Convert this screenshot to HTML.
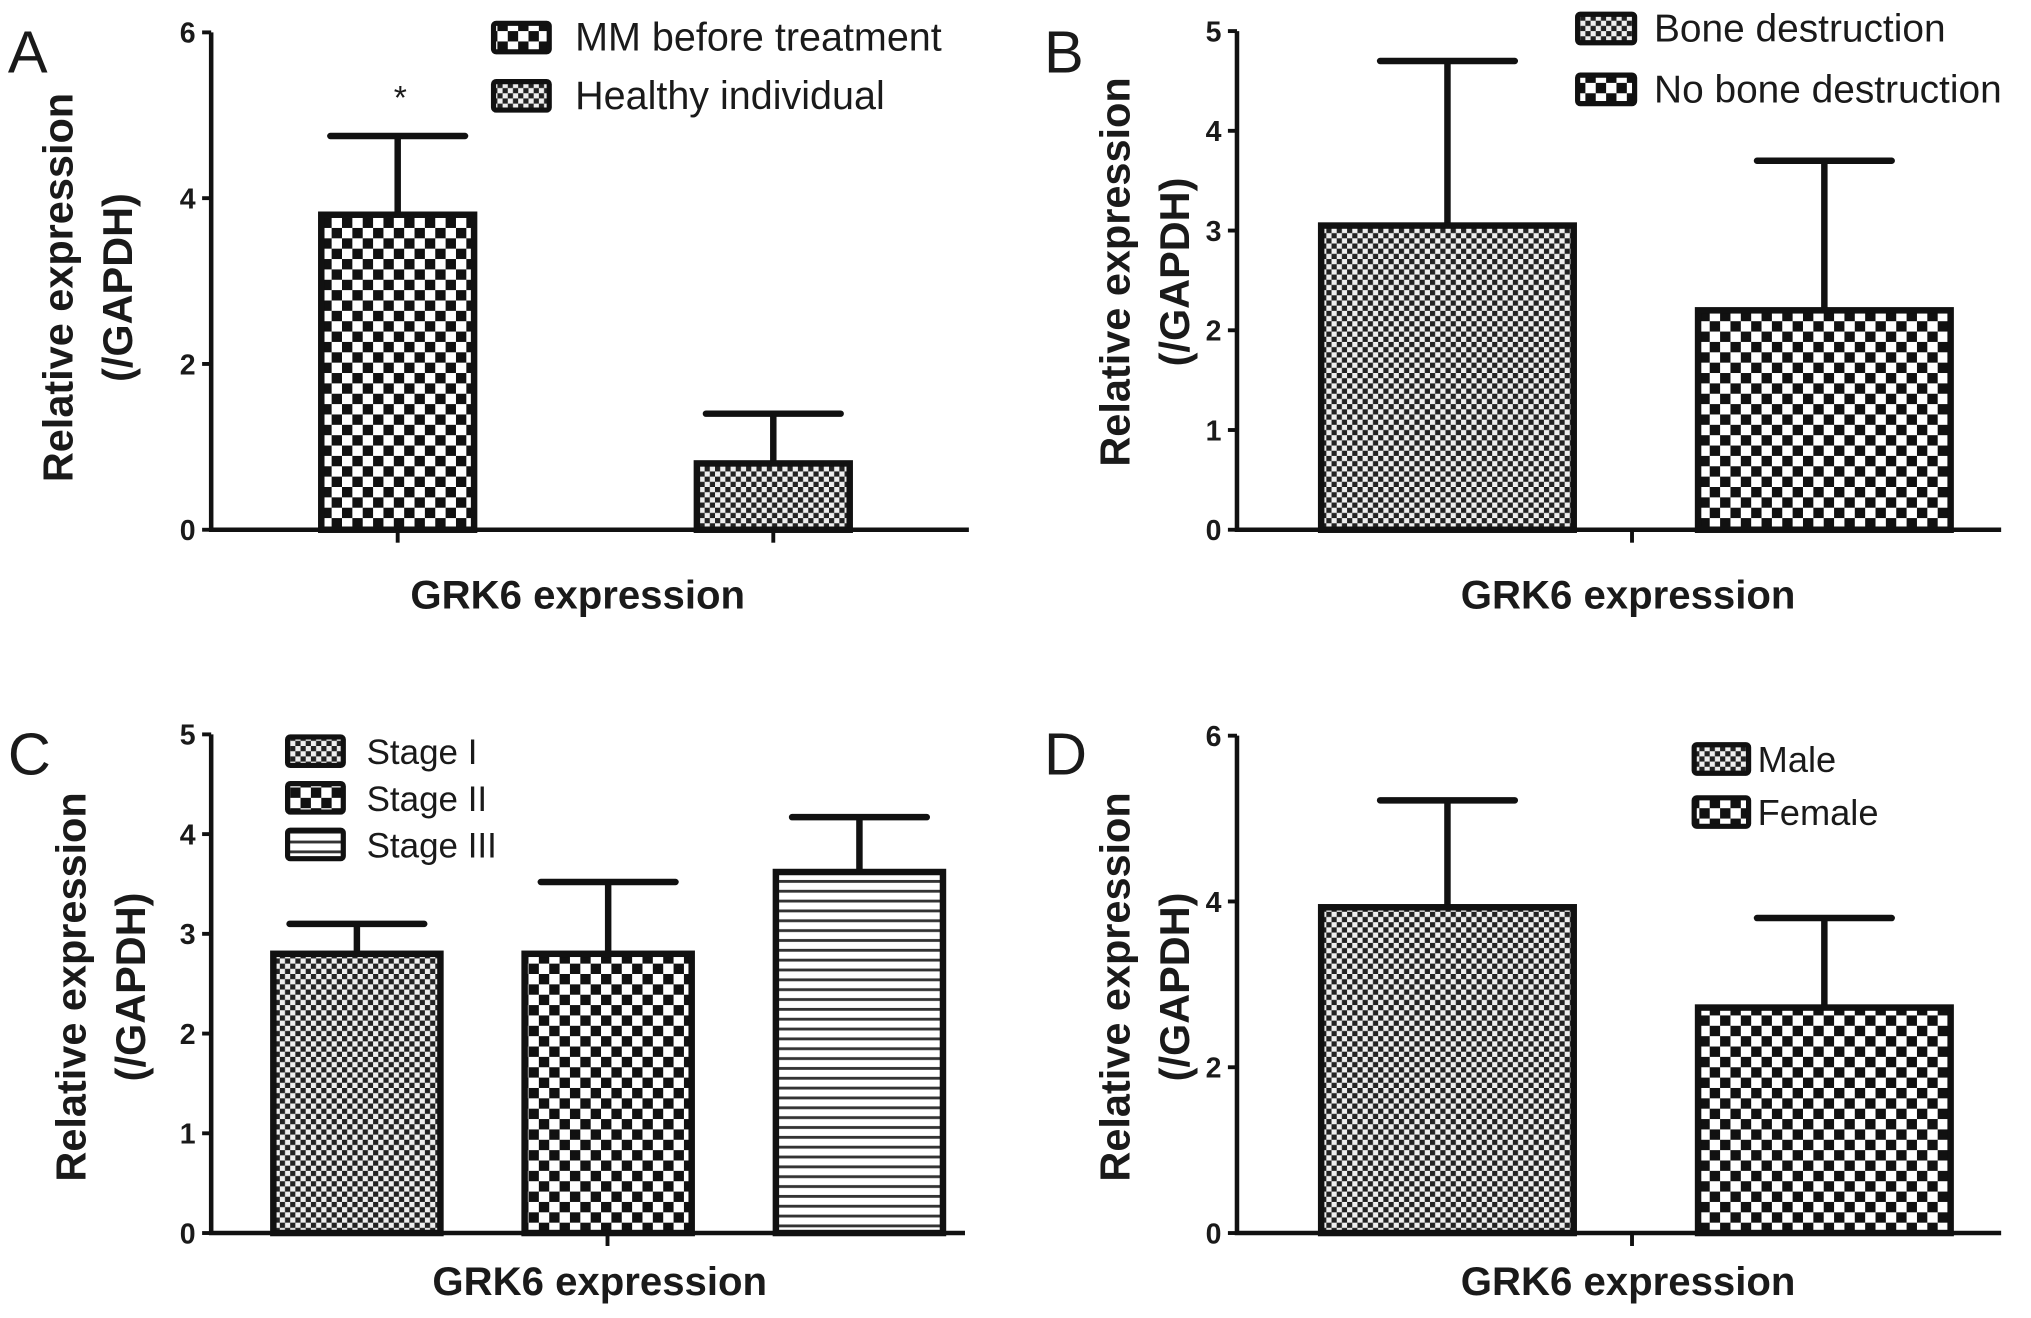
<!DOCTYPE html>
<html><head><meta charset="utf-8"><style>
html,body{margin:0;padding:0;background:#fff}
svg{display:block}
text{font-family:"Liberation Sans",Arial,sans-serif;fill:#1a1a1a}
.b{font-weight:bold}
</style></head><body>
<svg id="fig" width="2031" height="1318" viewBox="0 0 1568 1017.6" xmlns="http://www.w3.org/2000/svg">
<defs>
<pattern id="pBig" width="16" height="16" patternUnits="userSpaceOnUse"><rect width="16" height="16" fill="#fff"/><rect width="8" height="8" fill="#111"/><rect x="8" y="8" width="8" height="8" fill="#111"/></pattern>
<pattern id="pSmall" width="8" height="8" patternUnits="userSpaceOnUse"><rect width="8" height="8" fill="#eee"/><rect width="4" height="4" fill="#222"/><rect x="4" y="4" width="4" height="4" fill="#222"/></pattern>
<pattern id="pLines" width="8" height="7.6" patternUnits="userSpaceOnUse"><rect width="8" height="7.6" fill="#fff"/><rect y="3" width="8" height="2.2" fill="#333"/></pattern>
</defs>
<g id="root"></g>
</svg>
<script>
// Panel A
const aCats=["MM before treatment","Healthy individual"];
const aVals=[3.8,0.8];
const aErr=[4.75,1.4];
const aTicks=[0,2,4,6];
// Panel B
const bCats=["Bone destruction","No bone destruction"];
const bVals=[3.05,2.2];
const bErr=[4.7,3.7];
const bTicks=[0,1,2,3,4,5];
// Panel C
const cCats=["Stage I","Stage II","Stage III"];
const cVals=[2.8,2.8,3.62];
const cErr=[3.1,3.52,4.17];
const cTicks=[0,1,2,3,4,5];
// Panel D
const dCats=["Male","Female"];
const dVals=[3.93,2.72];
const dErr=[5.22,3.8];
const dTicks=[0,2,4,6];

const NS="http://www.w3.org/2000/svg";
const root=document.getElementById('root');
function mk(tag,attrs,parent,txt){const e=document.createElementNS(NS,tag);for(const k in attrs)e.setAttribute(k,attrs[k]);if(txt!==undefined)e.textContent=txt;(parent||root).appendChild(e);return e;}

function panel(o){
  const g=mk('g',{});
  
  
  const ymax=o.ticks[o.ticks.length-1];
  const yS=v=>o.y0-(o.y0-o.yTop)*v/ymax;
  const L=mk('text',{x:o.lx,y:o.ly,'font-size':46},g,o.letter);
  
  
  o.vals.forEach((v,i)=>{
    const x=o.barX[i];
    const err=mk('path',{d:`M${x+o.bw/2} ${yS(v)} V${yS(o.err[i])} M${x+o.bw/2-52} ${yS(o.err[i])} H${x+o.bw/2+52}`,stroke:'#111','stroke-width':5,fill:'none','stroke-linecap':'round'},g);
    
    
    const r=mk('rect',{x:x,y:yS(v),width:o.bw,height:o.y0-yS(v),fill:'url(#'+o.pats[i]+')',stroke:'#111','stroke-width':5},g);
    
    
  });
  const ax=mk('path',{d:`M${o.ax} ${o.yTop} V${o.y0} H${o.axEnd}`,stroke:'#111','stroke-width':3.5,fill:'none'},g);
  
  
  o.ticks.forEach(t=>{
    mk('line',{x1:o.ax-7,x2:o.ax,y1:yS(t),y2:yS(t),stroke:'#111','stroke-width':3},g);
    const tl=mk('text',{x:o.ax-12,y:yS(t)+8,'font-size':22,'text-anchor':'end',class:'b'},g,t);
    
    
  });
  o.xt.forEach(x=>mk('line',{x1:x,x2:x,y1:o.y0,y2:o.y0+10,stroke:'#111','stroke-width':3},g));
  const yt=mk('text',{transform:`translate(${o.ylx},${o.yly}) rotate(-90)`,'font-size':32,'text-anchor':'middle',class:'b'},g);
  
  
  mk('tspan',{x:0,y:0},yt,'Relative expression');
  mk('tspan',{x:0,y:46},yt,'(/GAPDH)');
  const xtit=mk('text',{x:o.xtx,y:o.xty,'font-size':31,'text-anchor':'middle',class:'b'},g,'GRK6 expression');
  
  
  o.cats.forEach((c,i)=>{
    const y=o.legY+i*o.legDy;
    const lb=mk('rect',{x:o.legX,y:y,width:o.legW,height:22,fill:'url(#'+o.pats[i]+')',stroke:'#111','stroke-width':4,rx:2},g);
    
    
    const lt=mk('text',{x:o.legTx,y:y+21,'font-size':o.legFs},g,c);
    
    
  });
  if(o.star){const s=mk('text',{x:o.star[0],y:o.star[1],'font-size':26,'text-anchor':'middle'},g,'*');
    
    }
}

panel({letter:'A',lx:6,ly:56,cats:aCats,vals:aVals,err:aErr,ticks:aTicks,pats:['pBig','pSmall'],
  ax:163,y0:409,yTop:25,axEnd:748,barX:[248,538],bw:118,xt:[307,597],
  ylx:56,yly:222,xtx:446,xty:470,legX:381,legY:18,legDy:45,legW:43,legTx:444,legFs:30.5,star:[309,84]});
panel({letter:'B',lx:806,ly:56,cats:bCats,vals:bVals,err:bErr,ticks:bTicks,pats:['pSmall','pBig'],
  ax:955,y0:409,yTop:24,axEnd:1545,barX:[1020,1311],bw:195,xt:[1260],
  ylx:872,yly:210,xtx:1257,xty:470,legX:1218,legY:11,legDy:47,legW:44,legTx:1277,legFs:30});
panel({letter:'C',lx:6,ly:598,cats:cCats,vals:cVals,err:cErr,ticks:cTicks,pats:['pSmall','pBig','pLines'],
  ax:163,y0:952,yTop:567,axEnd:745,barX:[211,405,599],bw:129,xt:[469],
  ylx:66,yly:762,xtx:463,xty:1000,legX:222,legY:569,legDy:36,legW:43,legTx:283,legFs:27});
panel({letter:'D',lx:806,ly:598,cats:dCats,vals:dVals,err:dErr,ticks:dTicks,pats:['pSmall','pBig'],
  ax:955,y0:952,yTop:568,axEnd:1545,barX:[1020,1311],bw:195,xt:[1260],
  ylx:872,yly:762,xtx:1257,xty:1000,legX:1308,legY:575,legDy:41,legW:42,legTx:1357,legFs:28});
</script>
</body></html>
